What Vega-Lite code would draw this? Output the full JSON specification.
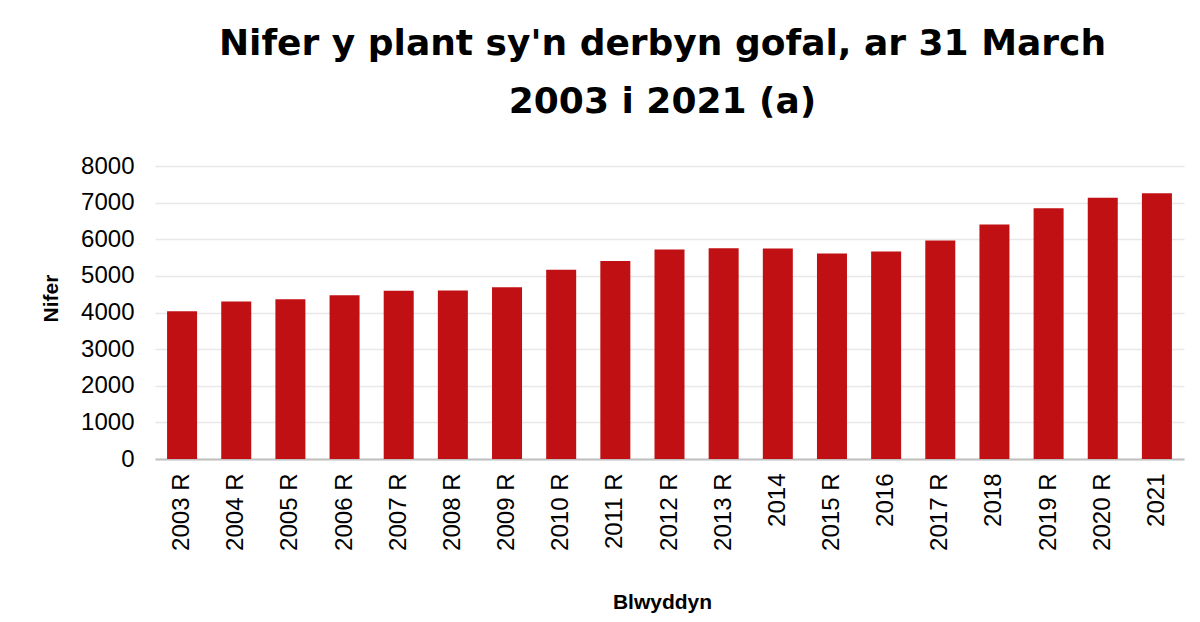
{
  "$schema": "https://vega.github.io/schema/vega-lite/v6.json",
  "autosize": "none",
  "width": 1029,
  "height": 293,
  "padding": {"left": 155, "top": 166, "right": 16, "bottom": 163},
  "background": "white",
  "title": {
    "text": ["Nifer y plant sy'n derbyn gofal, ar 31 March", "2003 i 2021 (a)"],
    "font": "DejaVu Sans",
    "fontSize": 36,
    "fontWeight": "bold",
    "color": "#000000",
    "lineHeight": 58,
    "anchor": "middle",
    "dx": -7,
    "offset": 33
  },
  "data": {
    "values": [
      {"year": "2003 R", "count": 4036},
      {"year": "2004 R", "count": 4300},
      {"year": "2005 R", "count": 4364},
      {"year": "2006 R", "count": 4473},
      {"year": "2007 R", "count": 4591},
      {"year": "2008 R", "count": 4600},
      {"year": "2009 R", "count": 4691},
      {"year": "2010 R", "count": 5164},
      {"year": "2011 R", "count": 5405},
      {"year": "2012 R", "count": 5718},
      {"year": "2013 R", "count": 5755},
      {"year": "2014", "count": 5745},
      {"year": "2015 R", "count": 5609},
      {"year": "2016", "count": 5664},
      {"year": "2017 R", "count": 5964},
      {"year": "2018", "count": 6400},
      {"year": "2019 R", "count": 6845},
      {"year": "2020 R", "count": 7136},
      {"year": "2021", "count": 7255}
    ]
  },
  "mark": {"type": "bar", "color": "#C11014"},
  "encoding": {
    "x": {
      "field": "year",
      "type": "nominal",
      "sort": null,
      "scale": {"paddingInner": 0.446, "paddingOuter": 0.223},
      "axis": {
        "title": "Blwyddyn",
        "titleFont": "Liberation Sans",
        "titleFontSize": 21,
        "titleFontWeight": "bold",
        "titleColor": "#000000",
        "titleX": 507,
        "titleY": 149,
        "titleAlign": "center",
        "titleBaseline": "alphabetic",
        "labelAngle": -90,
        "labelAlign": "right",
        "labelBaseline": "middle",
        "labelFont": "Liberation Sans",
        "labelFontSize": 24,
        "labelColor": "#000000",
        "labelPadding": 14,
        "ticks": false,
        "tickSize": 0,
        "domainColor": "#c0c0c0",
        "domainWidth": 2,
        "grid": false
      }
    },
    "y": {
      "field": "count",
      "type": "quantitative",
      "scale": {"domain": [0, 8000], "nice": false},
      "axis": {
        "title": "Nifer",
        "titleFont": "Liberation Sans",
        "titleFontSize": 21,
        "titleFontWeight": "bold",
        "titleColor": "#000000",
        "titleAngle": -90,
        "titleX": -98,
        "titleY": 132,
        "titleAlign": "center",
        "titleBaseline": "alphabetic",
        "values": [0, 1000, 2000, 3000, 4000, 5000, 6000, 7000, 8000],
        "format": "d",
        "labelFont": "Liberation Sans",
        "labelFontSize": 24,
        "labelColor": "#000000",
        "labelPadding": 21,
        "ticks": false,
        "tickSize": 0,
        "domain": false,
        "grid": true,
        "gridColor": "#e8e8e8",
        "gridWidth": 1.5
      }
    }
  },
  "config": {
    "view": {"stroke": null}
  }
}
